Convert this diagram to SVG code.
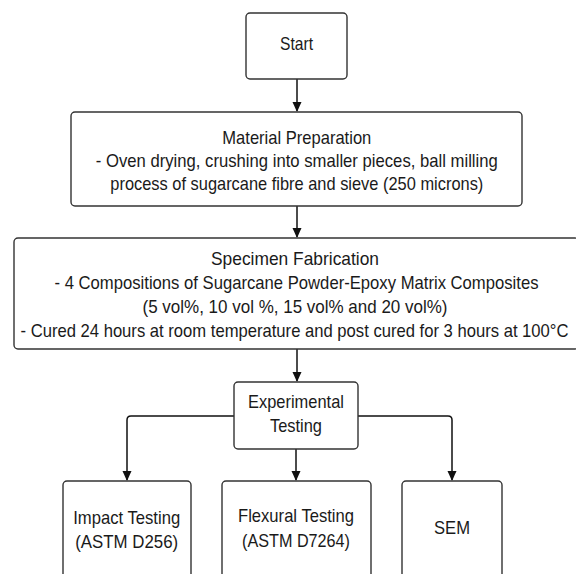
<svg xmlns="http://www.w3.org/2000/svg" width="576" height="574" viewBox="0 0 576 574">
<style>
.box{fill:#fff;stroke:#333;stroke-width:1.4}
.t{font-family:"Liberation Sans",Arial,sans-serif;font-size:19px;fill:#1a1a1a;text-anchor:middle}
.c{fill:none;stroke:#111;stroke-width:1.5}
</style>
<defs>
<marker id="ah" markerUnits="userSpaceOnUse" markerWidth="10" markerHeight="13" refX="9" refY="4.5" orient="auto" viewBox="0 0 10 9">
<path d="M0,0 L10,4.5 L0,9 z" fill="#111"/>
</marker>
</defs>
<rect width="576" height="574" fill="#fff"/>
<g id="connectors">
<path class="c" d="M297,79 V111" marker-end="url(#ah)"/>
<path class="c" d="M297,206 V237" marker-end="url(#ah)"/>
<path class="c" d="M297,349 V381" marker-end="url(#ah)"/>
<path class="c" d="M296,449 V480" marker-end="url(#ah)"/>
<path class="c" d="M234,416 H131 Q127,416 127,420 V480" marker-end="url(#ah)"/>
<path class="c" d="M358,416 H448 Q452,416 452,420 V480" marker-end="url(#ah)"/>
</g>
<g id="start">
<rect class="box" x="246" y="13" width="101" height="66" rx="4"/>
<text class="t" x="296.5" y="50" textLength="33" lengthAdjust="spacingAndGlyphs">Start</text>
</g>
<g id="material">
<rect class="box" x="71" y="112" width="451" height="94" rx="4"/>
<text class="t" x="296.8" y="143.5" textLength="149" lengthAdjust="spacingAndGlyphs">Material Preparation</text>
<text class="t" x="296.8" y="166.5" textLength="402" lengthAdjust="spacingAndGlyphs">- Oven drying, crushing into smaller pieces, ball milling</text>
<text class="t" x="296.8" y="189.5" textLength="373" lengthAdjust="spacingAndGlyphs">process of sugarcane fibre and sieve (250 microns)</text>
</g>
<g id="specimen">
<rect class="box" x="14" y="238" width="565" height="111" rx="4"/>
<text class="t" x="295" y="264.5" textLength="168" lengthAdjust="spacingAndGlyphs">Specimen Fabrication</text>
<text class="t" x="296.5" y="288.5" textLength="484" lengthAdjust="spacingAndGlyphs">- 4 Compositions of Sugarcane Powder-Epoxy Matrix Composites</text>
<text class="t" x="295" y="312.5" textLength="305" lengthAdjust="spacingAndGlyphs">(5 vol%, 10 vol %, 15 vol% and 20 vol%)</text>
<text class="t" x="294.5" y="336.5" textLength="548" lengthAdjust="spacingAndGlyphs">- Cured 24 hours at room temperature and post cured for 3 hours at 100°C</text>
</g>
<g id="experimental">
<rect class="box" x="234" y="382" width="124" height="67" rx="4"/>
<text class="t" x="296" y="407.5" textLength="96" lengthAdjust="spacingAndGlyphs">Experimental</text>
<text class="t" x="296" y="431.5" textLength="52" lengthAdjust="spacingAndGlyphs">Testing</text>
</g>
<g id="impact">
<rect class="box" x="63" y="481" width="128" height="110" rx="4"/>
<text class="t" x="126.7" y="523.5" textLength="107" lengthAdjust="spacingAndGlyphs">Impact Testing</text>
<text class="t" x="126.7" y="548" textLength="103" lengthAdjust="spacingAndGlyphs">(ASTM D256)</text>
</g>
<g id="flexural">
<rect class="box" x="222" y="481" width="149" height="110" rx="4"/>
<text class="t" x="296" y="521.5" textLength="116" lengthAdjust="spacingAndGlyphs">Flexural Testing</text>
<text class="t" x="296" y="546.5" textLength="108" lengthAdjust="spacingAndGlyphs">(ASTM D7264)</text>
</g>
<g id="sem">
<rect class="box" x="402" y="481" width="100" height="110" rx="4"/>
<text class="t" x="452" y="533.5" textLength="36" lengthAdjust="spacingAndGlyphs">SEM</text>
</g>
</svg>
